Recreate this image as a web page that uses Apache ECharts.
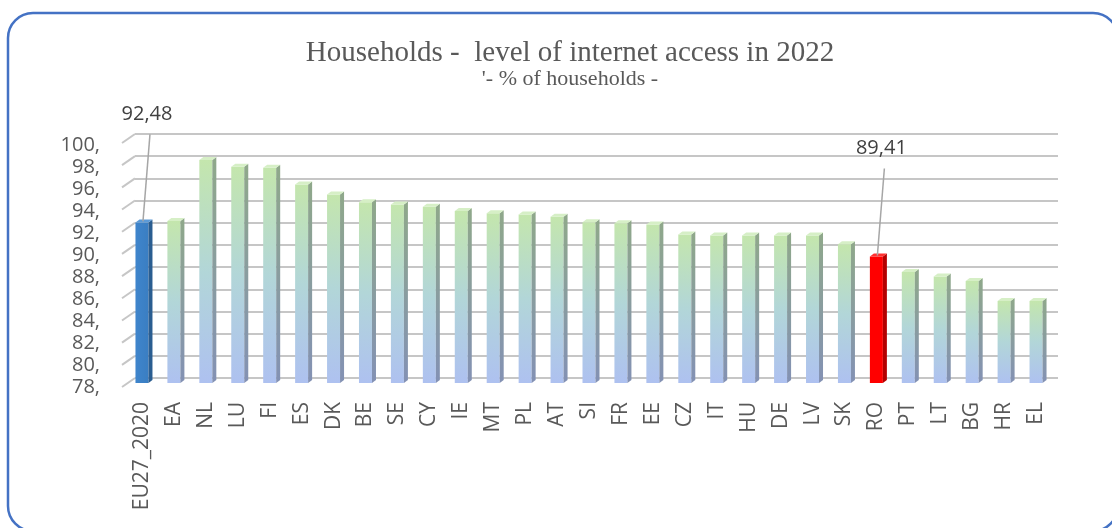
<!DOCTYPE html>
<html>
<head>
<meta charset="utf-8">
<script src="https://cdn.jsdelivr.net/npm/echarts@6/dist/echarts.min.js"></script>
<style>
html,body{margin:0;padding:0;background:#fff;}
#chart{width:1112px;height:528px;}
</style>
</head>
<body>
<div id="chart"></div>
<script>
const titleText = 'Households -  level of internet access in 2022';
const subtitleText = "'- % of households -";
const categories = ['EU27_2020','EA','NL','LU','FI','ES','DK','BE','SE','CY','IE','MT','PL','AT','SI','FR','EE','CZ','IT','HU','DE','LV','SK','RO','PT','LT','BG','HR','EL'];
const values = [92.48,92.6,98.1,97.5,97.4,95.9,95.0,94.3,94.1,93.9,93.5,93.3,93.2,93.0,92.5,92.4,92.3,91.4,91.3,91.3,91.3,91.3,90.5,89.41,88.0,87.6,87.2,85.4,85.4];
const blueCats = ['EU27_2020'];
const redCats = ['RO'];
const labeledCats = ['EU27_2020','RO'];
const yTicks = [78,80,82,84,86,88,90,92,94,96,98,100];
const yMin = 78, yMax = 100, yStep = 2;

const chart = echarts.init(document.getElementById('chart'));
const grey = '#595959';
const gridLine = '#c6c6c6';

function fmt(v){ return v.toFixed(2).replace('.', ','); }

function barItem(params, api){
  const i = api.value(0), v = api.value(1);
  const cat = categories[i];
  const top = api.coord([i, v]);
  const base = api.coord([i, yMin]);
  const w = 13, dx = 4, dy = 3;
  const x0 = top[0] - w/2;
  let front, side, topc;
  if (blueCats.includes(cat)) {
    front = new echarts.graphic.LinearGradient(0,0,1,0,[{offset:0,color:'#3f85cc'},{offset:1,color:'#3a7ec2'}]);
    side = '#2a5d90'; topc = '#5b9ad8';
  } else if (redCats.includes(cat)) {
    front = '#ff0000'; side = '#b40000'; topc = '#ff3030';
  } else {
    front = new echarts.graphic.LinearGradient(0,0,0,1,[{offset:0,color:'#c4e6ad'},{offset:0.5,color:'#b2d6d8'},{offset:1,color:'#aec1f0'}]);
    side = new echarts.graphic.LinearGradient(0,0,0,1,[{offset:0,color:'#8fa88a'},{offset:1,color:'#8391b4'}]);
    topc = '#d6efc6';
  }
  const children = [
    {type:'rect', shape:{x:x0, y:top[1], width:w, height:base[1]-top[1]}, style:{fill:front}},
    {type:'polygon', shape:{points:[[x0+w,top[1]],[x0+w+dx,top[1]-dy],[x0+w+dx,base[1]-dy],[x0+w,base[1]]]}, style:{fill:side}},
    {type:'polygon', shape:{points:[[x0,top[1]],[x0+dx,top[1]-dy],[x0+w+dx,top[1]-dy],[x0+w,top[1]]]}, style:{fill:topc}}
  ];
  if (labeledCats.includes(cat)) {
    children.push({type:'line', shape:{x1:top[0]+8, y1:top[1]-88, x2:top[0]+1, y2:top[1]-1}, style:{stroke:'#a6a6a6', lineWidth:1.5}});
    children.push({type:'text', style:{text:fmt(v), x:top[0]+5, y:top[1]-108, textAlign:'center', textVerticalAlign:'middle', fill:'#404040', font:'20px "Open Sans"'}});
  }
  return {type:'group', children};
}

function diagItem(params, api){
  const p = api.coord([0, api.value(0)]);
  return {type:'line', shape:{x1:p[0]-13, y1:p[1]+9, x2:p[0], y2:p[1]}, style:{stroke:gridLine, lineWidth:2}};
}

const option = {
  backgroundColor:'#fff',
  animation:false,
  title:[
    {text:titleText, left:565, top:34, textAlign:'center', textStyle:{fontFamily:'Liberation Serif', fontSize:29, fontWeight:'normal', color:grey}},
    {text:subtitleText, left:565, top:63, textAlign:'center', textStyle:{fontFamily:'Liberation Serif', fontSize:22, fontWeight:'normal', color:grey}}
  ],
  graphic:[
    {type:'rect', shape:{x:8, y:13, width:1110, height:518, r:25}, style:{fill:'none', stroke:'#4472c4', lineWidth:2.5}, z:-1}
  ],
  grid:[
    {left:122, top:145, width:10, height:242},
    {left:126, top:139, width:926, height:244},
    {left:135, top:134, width:923, height:244}
  ],
  xAxis:[
    {gridIndex:0, type:'value', show:false, min:0, max:1},
    {gridIndex:1, type:'category', data:categories, axisLine:{show:false}, axisTick:{show:false},
      axisLabel:{rotate:90, margin:19, interval:0, fontFamily:'Open Sans', fontSize:21, color:grey}},
    {gridIndex:2, type:'value', show:false, min:0, max:1}
  ],
  yAxis:[
    {gridIndex:0, type:'value', min:yMin, max:yMax, interval:yStep, axisLine:{show:false}, axisTick:{show:false}, splitLine:{show:false},
      axisLabel:{margin:22, fontFamily:'Open Sans', fontSize:20, color:grey, formatter:v=>v+','}},
    {gridIndex:1, type:'value', min:yMin, max:yMax, interval:yStep, show:false, splitLine:{show:false}},
    {gridIndex:2, type:'value', min:yMin, max:yMax, interval:yStep, axisLine:{show:false}, axisTick:{show:false}, axisLabel:{show:false},
      splitLine:{show:true, lineStyle:{color:gridLine, width:2}}}
  ],
  series:[
    {type:'custom', xAxisIndex:2, yAxisIndex:2, data:yTicks.map(t=>[t]), renderItem:diagItem, encode:{y:0}, z:1, silent:true},
    {type:'custom', xAxisIndex:1, yAxisIndex:1, data:values.map((v,i)=>[i,v]), renderItem:barItem, encode:{x:0,y:1}, z:5, clip:false}
  ]
};
chart.setOption(option);
</script>
</body>
</html>
